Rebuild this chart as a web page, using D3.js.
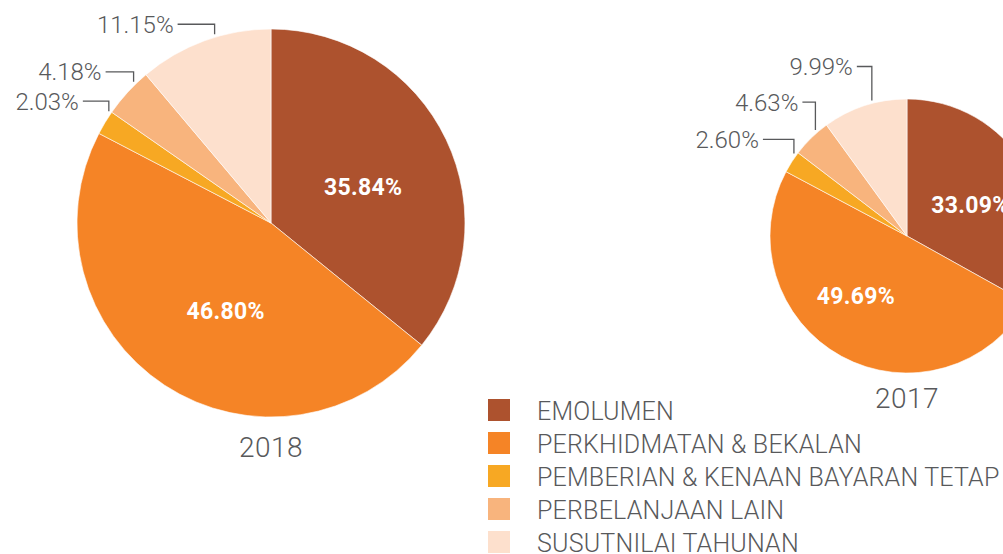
<!DOCTYPE html>
<html lang="en">
<head>
<meta charset="UTF-8">
<title>Perbelanjaan 2018 / 2017</title>
<script src="https://cdn.jsdelivr.net/npm/d3@7"></script>
<style>
  body { margin: 0; background: #fff; }
  svg { display: block; font-family: Roboto, "Open Sans", sans-serif; }
</style>
</head>
<body>
<svg width="1003" height="554"></svg>
<script>
// categories and colours
const categories = ["EMOLUMEN", "PERKHIDMATAN & BEKALAN", "PEMBERIAN & KENAAN BAYARAN TETAP", "PERBELANJAAN LAIN", "SUSUTNILAI TAHUNAN"];
const colors = ["#ad522e", "#f58426", "#f7a823", "#f8b47d", "#fde0cd"];

// share of spending, percent
const values2018 = [35.84, 46.80, 2.03, 4.18, 11.15];
const values2017 = [33.09, 49.69, 2.60, 4.63, 9.99];
const years = ["2018", "2017"];

var svg = d3.select("svg");

// layout of each pie (position, size, label nudges, leader line shapes for small slices)
var pies = [
  { values: values2018, year: years[0], cx: 271, cy: 223, r: 194, yearY: 457,
    nudge: [[1, 7], [10, 4]],
    rise: [10, 10, 10], run: [26, 28, 37] },
  { values: values2017, year: years[1], cx: 907, cy: 236, r: 137, yearY: 408,
    nudge: [[2, 5], [-17, -3]],
    rise: [14, 28, 34], run: [31, 13, 15] }
];

var pie = d3.pie().sort(null).value(function (d) { return d; });

pies.forEach(function (p) {
  var arcs = pie(p.values);
  var arc = d3.arc().innerRadius(0).outerRadius(p.r);
  var g = svg.append("g").attr("transform", "translate(" + p.cx + "," + p.cy + ")");

  g.selectAll("path")
    .data(arcs)
    .enter()
    .append("path")
    .attr("d", arc)
    .attr("fill", function (d, i) { return colors[i]; })
    .attr("stroke", "#fff")
    .attr("stroke-width", 0.6);

  // big slices: white label inside
  var inner = d3.arc().innerRadius(p.r * 0.52).outerRadius(p.r * 0.52);
  g.selectAll("text.inner")
    .data(arcs.slice(0, 2))
    .enter()
    .append("text")
    .attr("class", "inner")
    .attr("transform", function (d) { return "translate(" + inner.centroid(d) + ")"; })
    .attr("dx", function (d, i) { return p.nudge[i][0]; })
    .attr("y", function (d, i) { return p.nudge[i][1]; })
    .attr("dy", "0.35em")
    .attr("text-anchor", "middle")
    .attr("fill", "#fff")
    .style("font-size", "23px")
    .style("font-weight", "700")
    .style("letter-spacing", "0.3px")
    .text(function (d) { return d.data.toFixed(2) + "%"; });

  // small slices: grey label outside with elbow leader
  arcs.slice(2).forEach(function (d, k) {
    var a = (d.startAngle + d.endAngle) / 2 + 0.06;
    var x0 = Math.sin(a) * (p.r + 3);
    var y0 = -Math.cos(a) * (p.r + 3);
    var y1 = y0 - p.rise[k];
    var x1 = x0 - p.run[k];
    g.append("path")
      .attr("d", "M" + x0 + "," + y0 + "V" + y1 + "H" + x1)
      .attr("fill", "none")
      .attr("stroke", "#58595b")
      .attr("stroke-width", 1.3);
    g.append("text")
      .attr("x", x1 - 4)
      .attr("y", y1)
      .attr("dy", "0.35em")
      .attr("text-anchor", "end")
      .attr("fill", "#58595b")
      .style("font-size", "24px")
      .style("font-weight", "300")
      .text(d.data.toFixed(2) + "%");
  });

  svg.append("text")
    .attr("x", p.cx)
    .attr("y", p.yearY)
    .attr("text-anchor", "middle")
    .attr("fill", "#58595b")
    .style("font-size", "28px")
    .style("font-weight", "300")
    .style("letter-spacing", "0.5px")
    .text(p.year);
});

// legend
var legend = svg.append("g")
  .attr("transform", "translate(488,399)")
  .selectAll("g")
  .data(categories)
  .enter()
  .append("g")
  .attr("transform", function (d, i) { return "translate(0," + i * 33 + ")"; });

legend.append("rect")
  .attr("width", 22)
  .attr("height", 22)
  .attr("fill", function (d, i) { return colors[i]; });

legend.append("text")
  .attr("x", 49)
  .attr("y", 11)
  .attr("dy", "0.38em")
  .attr("fill", "#58595b")
  .style("font-size", "25px")
  .style("font-weight", "300")
  .style("letter-spacing", "0.2px")
  .text(function (d) { return d; });
</script>
</body>
</html>
